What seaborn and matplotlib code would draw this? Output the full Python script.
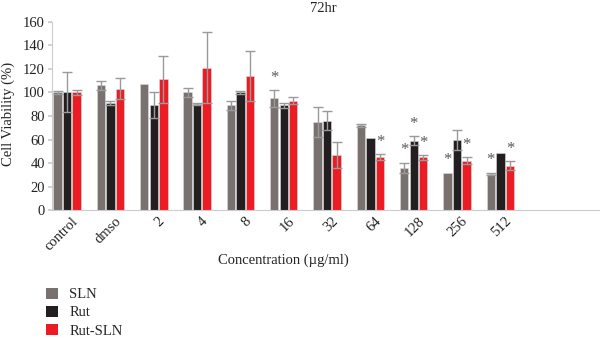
import matplotlib
matplotlib.use("Agg")
import matplotlib.pyplot as plt
import seaborn as sns
import pandas as pd
import numpy as np
from matplotlib.patches import Patch
from matplotlib.transforms import ScaledTranslation

categories = ["control", "dmso", "2", "4", "8", "16", "32", "64", "128", "256", "512"]
series = ["SLN", "Rut", "Rut-SLN"]
sln = [100, 106, 107, 100, 89, 95, 75, 72, 36, 32, 31]
rut = [100, 91, 89, 90, 100, 89, 76, 61, 59, 60, 49]
rutsln = [100, 103, 111, 121, 114, 93, 47, 45, 45, 42, 38]
sln_err = [1, 4, 0, 4, 4, 7, 13, 1.5, 4.5, 0, 1]
rut_err = [17, 2, 11, 1, 1, 2, 8, 0, 4, 8.5, 0]
rutsln_err = [2, 9, 20, 30, 21, 3, 11, 2.5, 2, 3, 4]
# asterisks: (category, series)
stars = [("16", "SLN"), ("64", "Rut-SLN"), ("128", "SLN"), ("128", "Rut"), ("128", "Rut-SLN"),
         ("256", "SLN"), ("256", "Rut-SLN"), ("512", "SLN"), ("512", "Rut-SLN")]

colors = ["#78716f", "#231f20", "#ec1c24"]

sns.set_theme(style="white")
plt.rcParams["font.family"] = ["Liberation Serif", "DejaVu Serif"]

rows = []
for s, vals, errs in zip(series, [sln, rut, rutsln], [sln_err, rut_err, rutsln_err]):
    for c, v, e in zip(categories, vals, errs):
        rows.append({"Concentration": c, "Series": s, "Value": v, "Err": e})
df = pd.DataFrame(rows)

fig = plt.figure(figsize=(6, 3.38), dpi=100)
ax = fig.add_axes([52/600, 1 - 210.3/338, 1 - 52/600, (210.3 - 21.7)/338])

sns.barplot(data=df, x="Concentration", y="Value", hue="Series", order=categories,
            hue_order=series, palette=colors, width=0.66, gap=0.12, errorbar=None,
            edgecolor="#dddddd", linewidth=0.4, ax=ax, legend=False, saturation=1)

patches = [p for p in ax.patches]
n = len(categories)
for si, s in enumerate(series):
    for ci, c in enumerate(categories):
        p = patches[si * n + ci]
        xc = p.get_x() + p.get_width() / 2
        row = df[(df.Series == s) & (df.Concentration == c)].iloc[0]
        if row.Err > 0:
            ax.errorbar(xc, row.Value, yerr=row.Err, fmt="none", ecolor="#9a9a9a",
                        elinewidth=1.0, capsize=3.5, capthick=1.0, zorder=5)
        if (c, s) in stars:
            ax.text(xc, row.Value + row.Err + 3.5, "*", ha="center", va="bottom",
                    fontsize=12, color="#5a5a5a")

ax.set_ylim(0, 160)
ax.set_xlim(-0.35, 12.3)
ax.set_yticks(range(0, 161, 20))
ax.tick_params(axis="y", labelsize=10.5, length=3, color="#cccccc", left=True, pad=2, labelcolor="#222222")
ax.tick_params(axis="x", labelsize=10.5, length=0, pad=3, labelcolor="#222222")
offset = ScaledTranslation(4/100, 0, fig.dpi_scale_trans)
for lab in ax.get_xticklabels():
    lab.set_rotation(45)
    lab.set_ha("right")
    lab.set_rotation_mode("anchor")
    lab.set_transform(lab.get_transform() + offset)
for side in ["top", "right"]:
    ax.spines[side].set_visible(False)
for side in ["left", "bottom"]:
    ax.spines[side].set_color("#cccccc")
    ax.spines[side].set_linewidth(0.8)
ax.set_xlabel("")
ax.set_ylabel("")

fig.text(8/600, 1 - 114/338, "Cell Viability (%)", rotation=90, ha="center", va="center",
         fontsize=10.5, color="#222222")
fig.text(323/600, 1 - 9/338, "72hr", ha="center", va="center", fontsize=10.5, color="#222222")
fig.text(283/600, 1 - 260/338, "Concentration (µg/ml)", ha="center", va="center",
         fontsize=10.5, color="#222222")

handles = [Patch(facecolor=c, edgecolor="none") for c in colors]
fig.legend(handles, series, loc="upper left", bbox_to_anchor=(40/600, 1 - 282/338),
           frameon=False, prop={"family": "Liberation Serif", "size": 10.5},
           handlelength=0.8, handleheight=0.8,
           labelspacing=0.3, handletextpad=0.8, borderaxespad=0)

fig.savefig("out.png", dpi=100)
